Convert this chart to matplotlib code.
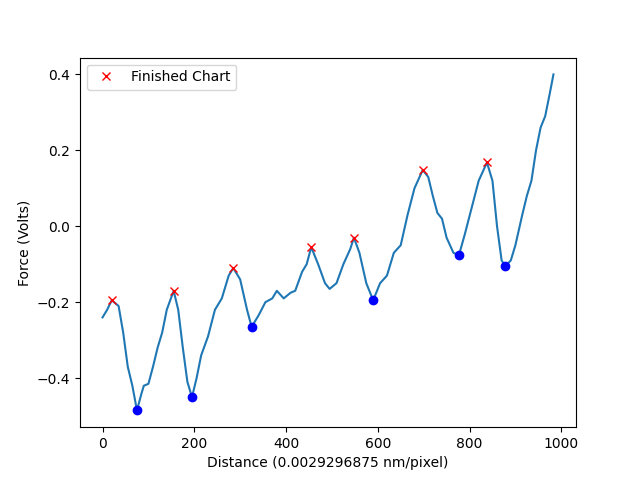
import matplotlib
matplotlib.use("Agg")
import matplotlib.pyplot as plt
import numpy as np

xs = [0,10,20,35,45,55,65,75,85,90,100,110,120,130,140,155,165,175,185,195,205,215,230,245,260,275,285,300,315,325,340,355,370,380,395,410,420,435,445,455,470,485,495,510,525,540,548,560,575,590,605,620,635,650,665,680,698,710,720,730,740,750,765,777,790,805,820,838,850,860,870,878,890,900,915,925,935,945,955,965,975,983]
ys = [-0.24,-0.22,-0.195,-0.21,-0.28,-0.37,-0.42,-0.485,-0.44,-0.42,-0.415,-0.37,-0.32,-0.28,-0.22,-0.17,-0.22,-0.32,-0.41,-0.45,-0.40,-0.34,-0.29,-0.22,-0.19,-0.13,-0.11,-0.14,-0.22,-0.265,-0.235,-0.2,-0.19,-0.17,-0.19,-0.175,-0.17,-0.12,-0.10,-0.055,-0.10,-0.15,-0.165,-0.15,-0.10,-0.06,-0.03,-0.07,-0.15,-0.195,-0.15,-0.13,-0.07,-0.05,0.03,0.10,0.148,0.13,0.08,0.035,0.02,-0.03,-0.07,-0.076,-0.02,0.05,0.12,0.168,0.12,0.0,-0.09,-0.105,-0.09,-0.05,0.03,0.08,0.12,0.2,0.26,0.29,0.35,0.40]
peak_x = [20,155,285,455,548,698,838]
valley_x = [75,195,325,590,777,878]

xs = np.array(xs); ys = np.array(ys)
pk = [ys[list(xs).index(v)] for v in peak_x]
vl = [ys[list(xs).index(v)] for v in valley_x]

fig, ax = plt.subplots(figsize=(6.4, 4.8), dpi=100)
ax.plot(xs, ys)
ax.plot(peak_x, pk, "x", color="red", label="Finished Chart")
ax.plot(valley_x, vl, "o", color="blue")
ax.set_xlabel("Distance (0.0029296875 nm/pixel)")
ax.set_ylabel("Force (Volts)")
ax.legend(loc="upper left")
fig.savefig("out.png")
